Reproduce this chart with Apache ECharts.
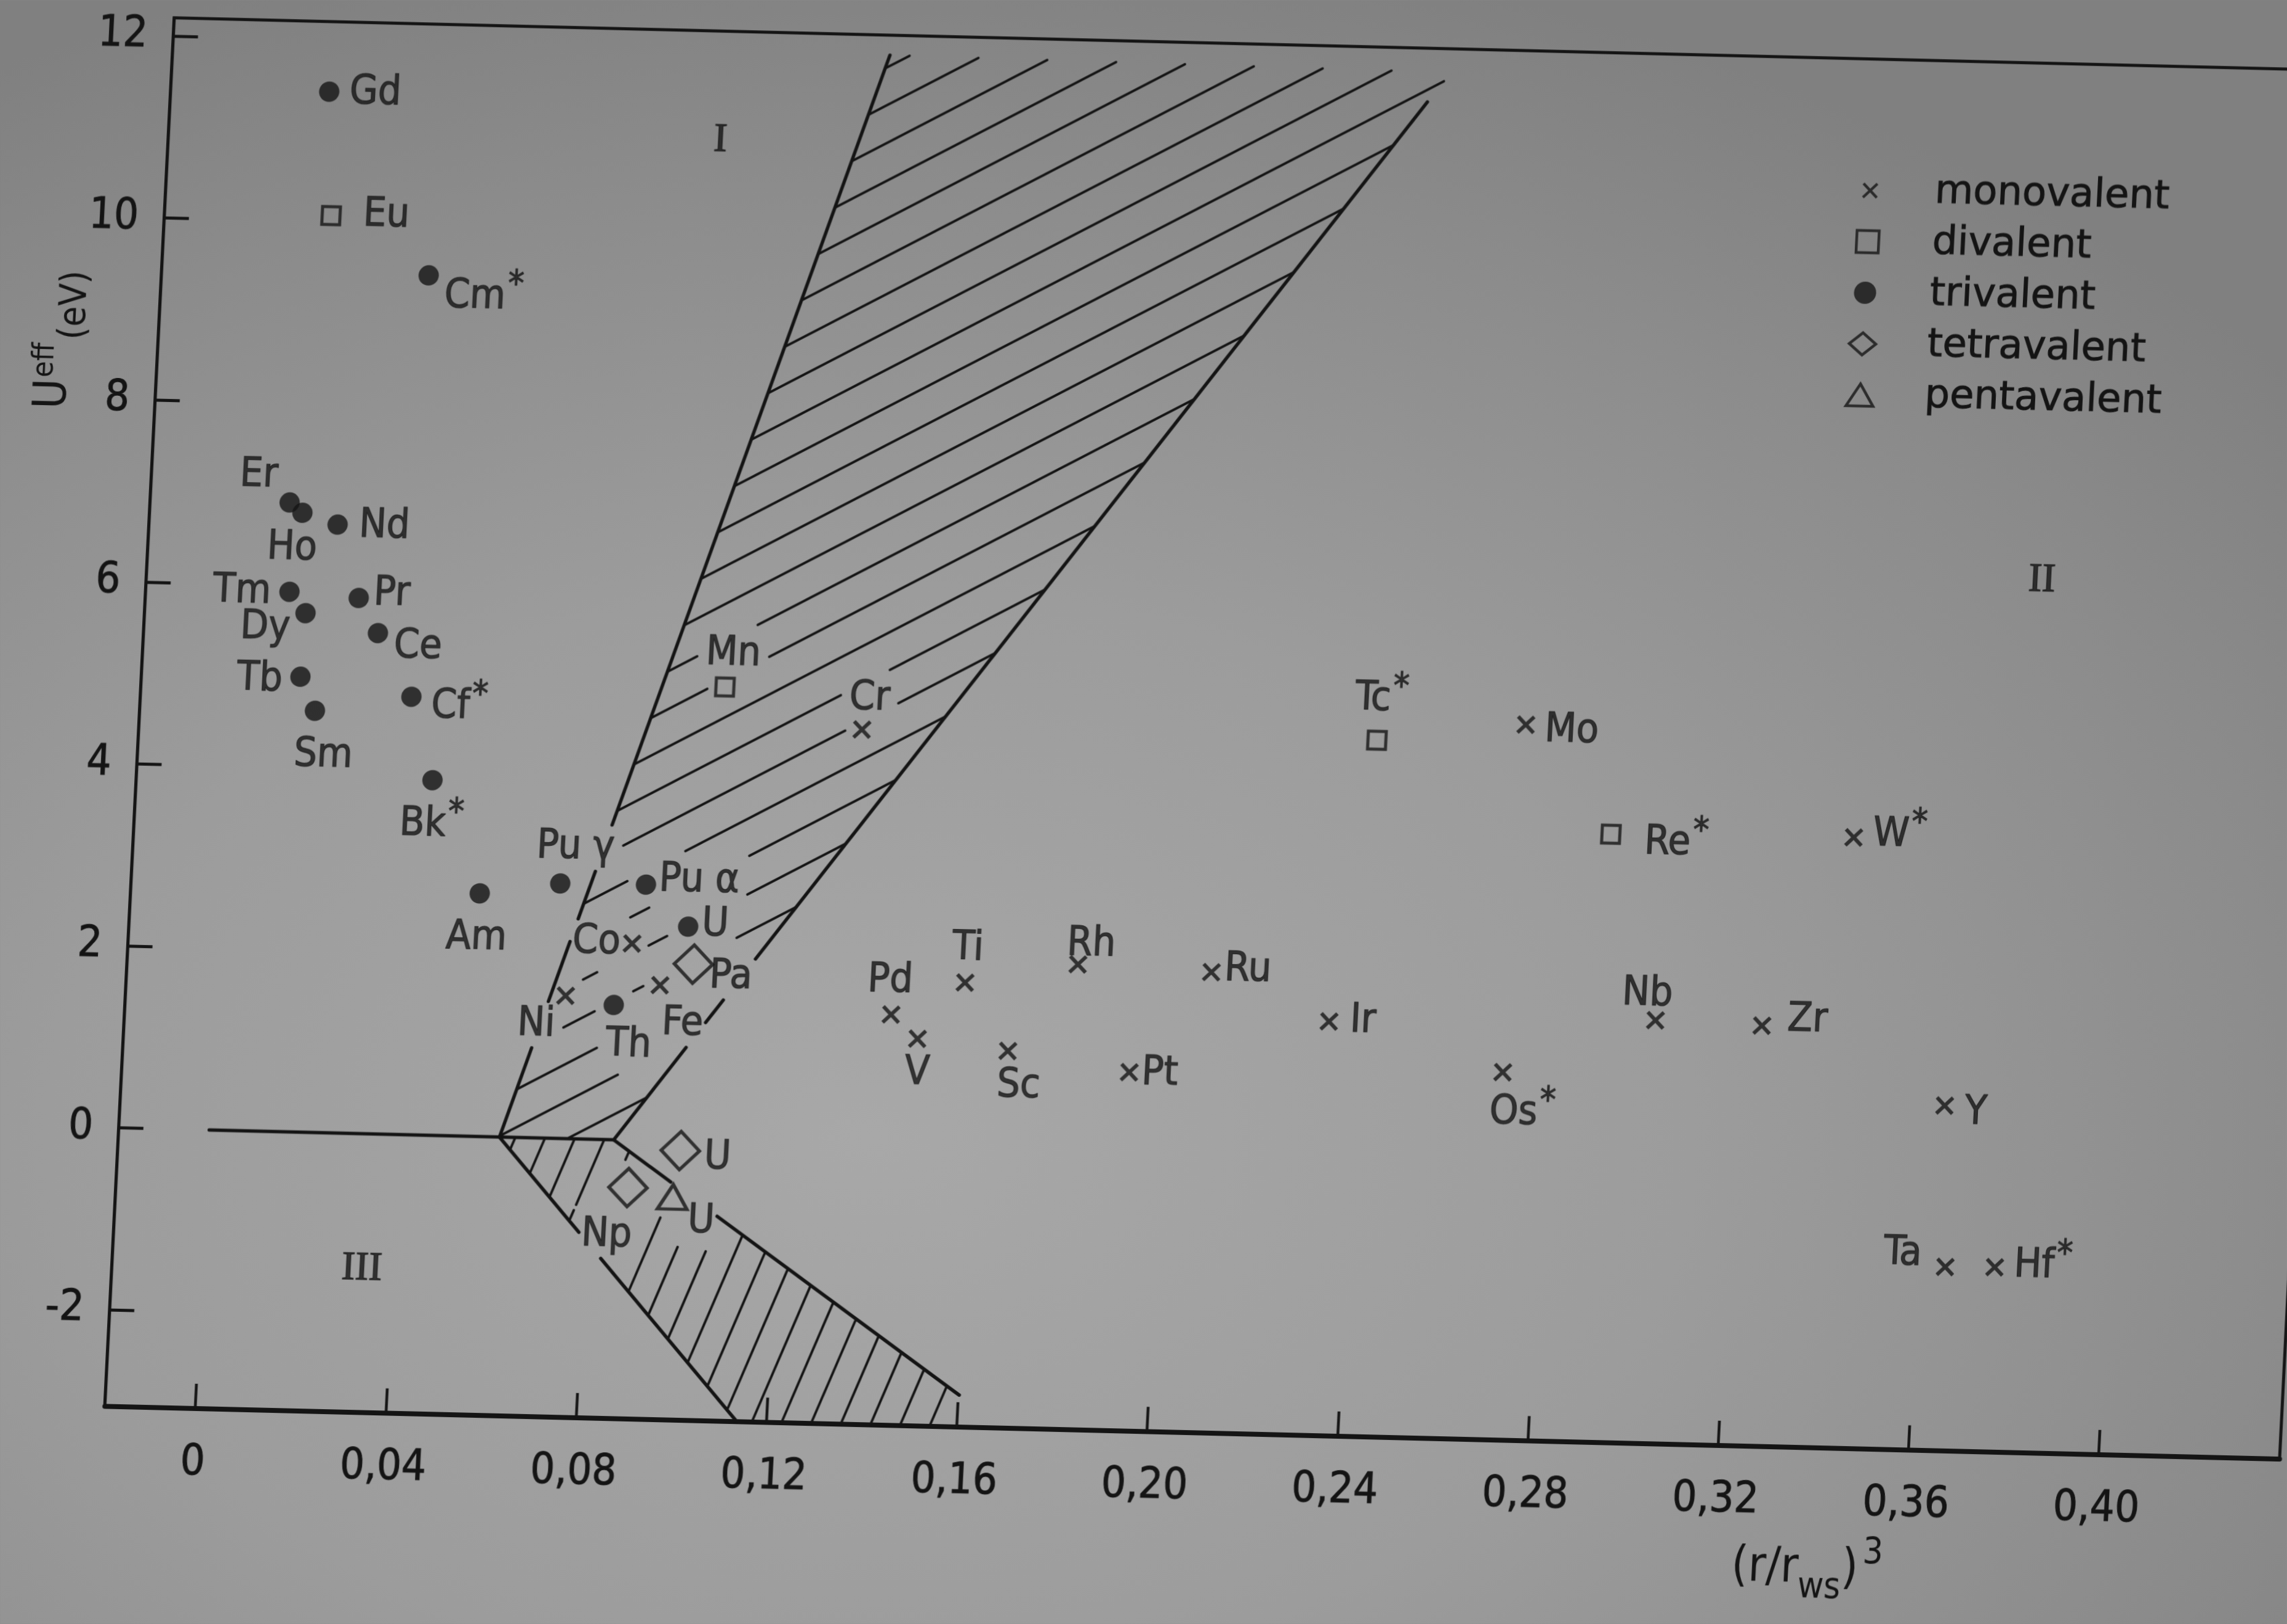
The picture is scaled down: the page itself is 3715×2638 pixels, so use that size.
<!DOCTYPE html>
<html>
<head>
<meta charset="utf-8">
<title>U_eff versus (r/r_ws)^3</title>
<script src="https://cdn.jsdelivr.net/npm/echarts@6/dist/echarts.min.js"></script>
<style>
  html, body { margin: 0; padding: 0; width: 3715px; height: 2638px; overflow: hidden; }
  body {
    background: radial-gradient(ellipse 80% 75% at 38% 70%, #a8a8a8 0%, #9c9c9c 45%, #8b8b8b 80%, #808080 100%);
  }
  #chart { position: absolute; }
</style>
</head>
<body>
<div id="chart"></div>
<script>
// ---------------- data ----------------
const xTickValues = [0, 0.04, 0.08, 0.12, 0.16, 0.20, 0.24, 0.28, 0.32, 0.36, 0.40];
const xTickLabels = ['0', '0,04', '0,08', '0,12', '0,16', '0,20', '0,24', '0,28', '0,32', '0,36', '0,40'];
const yTickValues = [-2, 0, 2, 4, 6, 8, 10, 12];
const yTickLabels = ['-2', '0', '2', '4', '6', '8', '10', '12'];

// monovalent (x)
const monoNames = ['Cr', 'Co', 'Ni', 'Fe', 'Pd', 'Ti', 'V', 'Sc', 'Rh', 'Ru', 'Pt', 'Ir', 'Os*', 'Mo', 'Nb', 'Zr', 'W*', 'Y', 'Ta', 'Hf*'];
const monoX = [0.1328, 0.0868, 0.0734, 0.0931, 0.1419, 0.1571, 0.1477, 0.1668, 0.1806, 0.2087, 0.1925, 0.2339, 0.2709, 0.2721, 0.3024, 0.3248, 0.3421, 0.3640, 0.3658, 0.3762];
const monoY = [4.57, 2.16, 1.57, 1.71, 1.45, 1.82, 1.19, 1.08, 2.05, 2.00, 0.88, 1.49, 0.98, 4.80, 1.59, 1.56, 3.65, 0.73, -1.04, -1.03];

// divalent (open square)
const diNames = ['Eu', 'Mn', 'Tc*', 'Re*'];
const diX = [0.0160, 0.1036, 0.2410, 0.2911];
const diY = [10.07, 5.00, 4.59, 3.62];

// trivalent (filled circle)
const triNames = ['Gd', 'Cm*', 'Er', 'Ho', 'Nd', 'Tm', 'Pr', 'Dy', 'Ce', 'Tb', 'Cf*', 'Sm', 'Bk*', 'Am', 'Pu γ', 'Pu α', 'U', 'Th'];
const triX = [0.0143, 0.0371, 0.0103, 0.0131, 0.0206, 0.0112, 0.0258, 0.0148, 0.0302, 0.0144, 0.0379, 0.0178, 0.0432, 0.0543, 0.0711, 0.0891, 0.0984, 0.0836];
const triY = [11.43, 9.44, 6.91, 6.80, 6.68, 5.93, 5.88, 5.70, 5.50, 5.00, 4.81, 4.63, 3.90, 2.67, 2.80, 2.81, 2.36, 1.48];

// tetravalent (open diamond)
const tetraNames = ['Pa', 'U', 'Np'];
const tetraX = [0.0999, 0.0991, 0.0885];
const tetraY = [1.95, -0.10, -0.52];

// pentavalent (open triangle)
const pentaNames = ['U'];
const pentaX = [0.0980];
const pentaY = [-0.61];

// region numerals
const regionNames = ['I', 'II', 'III'];
const regionX = [0.0969, 0.3789, 0.0335];
const regionY = [11.0, 6.52, -1.48];

// hatched transition bands and boundary lines, in data units
const upperBand = [[0.1316, 11.98], [0.2495, 11.94], [0.085, 0], [0.061, 0]];
const lowerBand = [[0.061, 0], [0.085, 0], [0.1602, -2.71], [0.1575, -3.06], [0.1138, -3.06]];
const boundaryLines = [
  [[0, 0], [0.085, 0]],
  [[0.1316, 11.98], [0.061, 0]],
  [[0.2449, 11.61], [0.085, 0]],
  [[0.061, 0], [0.1138, -3.06]],
  [[0.085, 0], [0.1602, -2.71]]
];

const xMin = -0.019, xMax = 0.438, yMin = -3.06, yMax = 12.2;

// ---------------- label placement (px from the mark centre) ----------------
const monoLabelAt = [[10, -50, 'center'], [-19, 0, 'right'], [-15, 48, 'right'], [6, 62, 'left'], [-4, -54, 'center'],
  [2, -55, 'center'], [2, 56, 'center'], [20, 57, 'center'], [20, -33, 'center'], [21, -5, 'left'], [20, 1, 'left'],
  [34, -2, 'left'], [35, 66, 'center'], [31, 9, 'left'], [-15, -42, 'center'], [41, -10, 'left'], [31, -5, 'left'],
  [33, 11, 'left'], [-39, -19, 'right'], [31, -3, 'left']];
const diLabelAt = [[52, -2, 'left'], [11, -54, 'center'], [5, -66, 'center'], [55, 12, 'left']];
const triLabelAt = [[33, 1, 'left'], [27, 33, 'left'], [-21, -42, 'right'], [-14, 58, 'center'], [35, 2, 'left'],
  [-30, 2, 'right'], [24, -8, 'left'], [-24, 26, 'right'], [27, 21, 'left'], [-29, 6, 'right'], [33, 15, 'left'],
  [17, 73, 'center'], [2, 73, 'center'], [-2, 73, 'center'], [22, -59, 'center'], [21, -8, 'left'], [22, -4, 'left'],
  [27, 65, 'center']];
const tetraLabelAt = [[27, 19, 'left'], [39, 10, 'left'], [-31, 78, 'center']];
const pentaLabelAt = [[26, 39, 'left']];

// ---------------- styling & layout ----------------
const INK = '#141414';
const FONT = "'DejaVu Sans Condensed', 'Liberation Sans Narrow', 'DejaVu Sans', sans-serif";
const WIDE_FONT = "'DejaVu Sans', sans-serif";
const SERIF = "'Liberation Serif', 'DejaVu Serif', serif";
const LABEL_SIZE = 66, STAR_SIZE = 58;
const SIZE_MONO = [26, 26], SIZE_DI = [29, 29], SIZE_TRI = [33, 33], SIZE_TETRA = [62, 62], SIZE_PENTA = [48, 40];

// page layout: the printed figure is slightly sheared on the page
const PAD = 150;
const ORIGIN = [317.6, 2279];        // page position of (0, -3)
const PX_X = 7730, PX_Y = 147.8;     // px per data unit
const SHEAR = [1, 0.02426, -0.05, 1];

const chartEl = document.getElementById('chart');
chartEl.style.left = -PAD + 'px';
chartEl.style.top = -PAD + 'px';
chartEl.style.width = (3715 + 2 * PAD) + 'px';
chartEl.style.height = (2638 + 2 * PAD) + 'px';
chartEl.style.transformOrigin = (PAD + ORIGIN[0]) + 'px ' + (PAD + ORIGIN[1]) + 'px';
chartEl.style.transform = 'matrix(' + SHEAR.join(',') + ',0,0)';

const gridLeft = PAD + ORIGIN[0] + xMin * PX_X;
const gridTop = PAD + ORIGIN[1] - (yMax + 3) * PX_Y;
const gridWidth = (xMax - xMin) * PX_X;
const gridHeight = (yMax - yMin) * PX_Y;

const ICON_CROSS = 'path://M0,0L0.01,0M3,3L13,13M13,3L3,13M16,16L16.01,16';
const ICON_SQUARE = 'path://M0,0L10,0L10,10L0,10Z';
const ICON_DIAMOND = 'path://M12,0L24,10L12,20L0,10Z';
const ICON_TRIANGLE = 'path://M11,0L22,18L0,18Z';
const SYMBOL_CROSS = 'path://M0,0L10,10M10,0L0,10';

// ---------------- helpers ----------------
const measureCtx = document.createElement('canvas').getContext('2d');
function textWidth(text, size) {
  measureCtx.font = size + 'px ' + FONT;
  return measureCtx.measureText(text).width;
}

function labelFormatter(p) {
  const n = p.name;
  return n.endsWith('*') ? n.slice(0, -1) + '{s|*}' : n;
}

function buildData(names, xs, ys, at) {
  return names.map((n, i) => ({
    name: n,
    value: [xs[i], ys[i]],
    label: { offset: [at[i][0], at[i][1]], align: at[i][2] }
  }));
}

const pointGroups = [
  { names: monoNames, xs: monoX, ys: monoY, at: monoLabelAt, size: SIZE_MONO },
  { names: diNames, xs: diX, ys: diY, at: diLabelAt, size: SIZE_DI },
  { names: triNames, xs: triX, ys: triY, at: triLabelAt, size: SIZE_TRI },
  { names: tetraNames, xs: tetraX, ys: tetraY, at: tetraLabelAt, size: SIZE_TETRA },
  { names: pentaNames, xs: pentaX, ys: pentaY, at: pentaLabelAt, size: SIZE_PENTA }
];

// boxes around marks and their labels, kept clear of hatching
function clearBoxes(api) {
  const boxes = [];
  pointGroups.forEach(g => g.names.forEach((name, i) => {
    const c = api.coord([g.xs[i], g.ys[i]]);
    boxes.push([c[0] - g.size[0] / 2, c[1] - g.size[1] / 2, c[0] + g.size[0] / 2, c[1] + g.size[1] / 2]);
    const star = name.endsWith('*');
    const base = star ? name.slice(0, -1) : name;
    const w = textWidth(base, LABEL_SIZE) + (star ? textWidth('*', STAR_SIZE) + 3 : 0);
    const ax = c[0] + g.at[i][0], ay = c[1] + g.at[i][1], align = g.at[i][2];
    const x0 = align === 'left' ? ax : (align === 'right' ? ax - w : ax - w / 2);
    boxes.push([x0, ay - 34 - (star ? 18 : 0), x0 + w, ay + 34]);
  }));
  return boxes;
}

function clipToPolygon(p0, p1, poly) {
  let area = 0;
  for (let i = 0; i < poly.length; i++) {
    const a = poly[i], b = poly[(i + 1) % poly.length];
    area += a[0] * b[1] - b[0] * a[1];
  }
  const s = area > 0 ? 1 : -1;
  const D = [p1[0] - p0[0], p1[1] - p0[1]];
  let t0 = 0, t1 = 1;
  for (let i = 0; i < poly.length; i++) {
    const a = poly[i], b = poly[(i + 1) % poly.length];
    const e = [b[0] - a[0], b[1] - a[1]];
    const f0 = s * (e[0] * (p0[1] - a[1]) - e[1] * (p0[0] - a[0]));
    const fd = s * (e[0] * D[1] - e[1] * D[0]);
    if (Math.abs(fd) < 1e-12) { if (f0 < 0) return null; continue; }
    const t = -f0 / fd;
    if (fd > 0) t0 = Math.max(t0, t); else t1 = Math.min(t1, t);
    if (t0 >= t1) return null;
  }
  return [t0, t1];
}

function rectInterval(p0, D, r, gap) {
  let tmin = -Infinity, tmax = Infinity;
  const axes = [[p0[0], D[0], r[0] - gap, r[2] + gap], [p0[1], D[1], r[1] - gap, r[3] + gap]];
  for (const [p, d, lo, hi] of axes) {
    if (Math.abs(d) < 1e-12) { if (p < lo || p > hi) return null; }
    else {
      let ta = (lo - p) / d, tb = (hi - p) / d;
      if (ta > tb) { const tmp = ta; ta = tb; tb = tmp; }
      tmin = Math.max(tmin, ta); tmax = Math.min(tmax, tb);
    }
  }
  return tmin < tmax ? [tmin, tmax] : null;
}

function subtract(pieces, cut) {
  const out = [];
  pieces.forEach(([a, b]) => {
    if (cut[1] <= a || cut[0] >= b) { out.push([a, b]); return; }
    if (cut[0] > a) out.push([a, cut[0]]);
    if (cut[1] < b) out.push([cut[1], b]);
  });
  return out;
}

function addPieces(out, p0, p1, t, width, boxes, gap) {
  const D = [p1[0] - p0[0], p1[1] - p0[1]];
  let pieces = [t];
  boxes.forEach(b => { const c = rectInterval(p0, D, b, gap); if (c) pieces = subtract(pieces, c); });
  const len = Math.hypot(D[0], D[1]);
  pieces.forEach(([a, b]) => {
    if ((b - a) * len < 10) return;
    out.push({
      type: 'line',
      shape: { x1: p0[0] + D[0] * a, y1: p0[1] + D[1] * a, x2: p0[0] + D[0] * b, y2: p0[1] + D[1] * b },
      style: { stroke: INK, lineWidth: width, lineCap: 'round' }
    });
  });
}

function hatch(out, poly, dir, spacing, phase, width, boxes) {
  const n = [-dir[1], dir[0]];
  const cx = poly.reduce((s, p) => s + p[0], 0) / poly.length;
  const cy = poly.reduce((s, p) => s + p[1], 0) / poly.length;
  const proj = poly.map(p => (p[0] - cx) * n[0] + (p[1] - cy) * n[1]);
  const lo = Math.min.apply(null, proj), hi = Math.max.apply(null, proj);
  const L = 6000;
  for (let off = Math.ceil(lo / spacing) * spacing + phase; off <= hi; off += spacing) {
    const q = [cx + n[0] * off, cy + n[1] * off];
    const p0 = [q[0] - dir[0] * L, q[1] - dir[1] * L];
    const p1 = [q[0] + dir[0] * L, q[1] + dir[1] * L];
    const t = clipToPolygon(p0, p1, poly);
    if (t) addPieces(out, p0, p1, t, width, boxes, 14);
  }
}

function renderRegions(params, api) {
  const boxes = clearBoxes(api);
  const toPx = v => api.coord(v);
  const children = [];
  hatch(children, upperBand.map(toPx), [0.874, -0.486], 55, 10, 4, boxes);
  hatch(children, lowerBand.map(toPx), [-0.353, 0.936], 45, 12, 4, boxes);
  boundaryLines.forEach(seg => addPieces(children, toPx(seg[0]), toPx(seg[1]), [0, 1], 5.5, boxes, 4));
  return { type: 'group', children: children };
}

// ---------------- chart ----------------
const chart = echarts.init(chartEl, null, { renderer: 'canvas' });

const labelBase = {
  show: true,
  position: 'inside',
  verticalAlign: 'middle',
  color: INK,
  fontSize: LABEL_SIZE,
  fontFamily: FONT,
  textBorderColor: INK,
  textBorderWidth: 1.2,
  formatter: labelFormatter,
  rich: { s: { fontSize: STAR_SIZE, fontFamily: FONT, color: INK, textBorderColor: INK, textBorderWidth: 1.2, padding: [0, 0, 36, 3] } }
};

function tickLabel(values, labels) {
  return v => {
    const i = values.findIndex(t => Math.abs(t - v) < 1e-6);
    return i >= 0 ? labels[i] : '';
  };
}

const option = {
  backgroundColor: 'transparent',
  animation: false,
  grid: {
    left: gridLeft, top: gridTop, width: gridWidth, height: gridHeight,
    show: true, borderColor: INK, borderWidth: 5, backgroundColor: 'transparent'
  },
  xAxis: {
    type: 'value', min: xMin, max: xMax,
    splitLine: { show: false },
    axisLine: { show: true, onZero: false, lineStyle: { color: INK, width: 8 } },
    axisTick: { show: true, inside: true, length: 40, lineStyle: { color: INK, width: 4.5 }, customValues: xTickValues },
    axisLabel: {
      customValues: xTickValues, formatter: tickLabel(xTickValues, xTickLabels),
      margin: 54, fontSize: 70, fontFamily: FONT, color: INK, textBorderColor: INK, textBorderWidth: 1
    }
  },
  yAxis: {
    type: 'value', min: yMin, max: yMax,
    splitLine: { show: false },
    axisLine: { show: true, onZero: false, lineStyle: { color: INK, width: 5 } },
    axisTick: { show: true, inside: true, length: 40, lineStyle: { color: INK, width: 5 }, customValues: yTickValues },
    axisLabel: {
      customValues: yTickValues, formatter: tickLabel(yTickValues, yTickLabels),
      margin: 42, fontSize: 70, fontFamily: FONT, color: INK, textBorderColor: INK, textBorderWidth: 1
    }
  },
  legend: {
    orient: 'vertical',
    left: PAD + 2907, top: PAD + 199.5,
    itemWidth: 200, itemHeight: 36, itemGap: 0,
    selectedMode: false,
    textStyle: { fontSize: 64, fontFamily: WIDE_FONT, color: INK, lineHeight: 83, textBorderColor: INK, textBorderWidth: 1 },
    itemStyle: { borderWidth: 4.5 },
    data: [
      { name: 'monovalent', icon: ICON_CROSS },
      { name: 'divalent', icon: ICON_SQUARE },
      { name: 'trivalent', icon: 'circle', itemStyle: { borderWidth: 0 } },
      { name: 'tetravalent', icon: ICON_DIAMOND },
      { name: 'pentavalent', icon: ICON_TRIANGLE }
    ]
  },
  graphic: [
    {
      type: 'text', x: PAD + 6, y: PAD + 559, rotation: Math.PI / 2,
      style: {
        text: '{u|U}{e|eff}{v|(eV)}', align: 'center', verticalAlign: 'middle', fill: INK,
        rich: {
          u: { fontSize: 74, lineHeight: 124, fontFamily: FONT, fill: INK },
          e: { fontSize: 48, verticalAlign: 'top', padding: [22, 0, 0, 2], fontFamily: FONT, fill: INK },
          v: { fontSize: 60, verticalAlign: 'bottom', padding: [0, 0, 4, 6], fontFamily: FONT, fill: INK }
        }
      }
    },
    {
      type: 'text', x: PAD + 2945, y: PAD + 2486,
      style: {
        text: '{m|(r/r}{b|ws}{m|)}{t|3}', align: 'center', verticalAlign: 'middle', fill: INK,
        rich: {
          m: { fontSize: 78, lineHeight: 130, fontFamily: FONT, fill: INK },
          b: { fontSize: 58, verticalAlign: 'bottom', padding: [0, 0, 6, 0], fontFamily: FONT, fill: INK },
          t: { fontSize: 58, verticalAlign: 'top', padding: [8, 0, 0, 6], fontFamily: FONT, fill: INK }
        }
      }
    }
  ],
  series: [
    {
      type: 'custom', name: 'regions', coordinateSystem: 'cartesian2d',
      data: [[0, 0]], renderItem: renderRegions, silent: true, z: 1, clip: false
    },
    {
      type: 'scatter', name: 'monovalent', z: 3, clip: false, silent: true,
      symbol: SYMBOL_CROSS, symbolSize: SIZE_MONO,
      itemStyle: { color: 'rgba(0,0,0,0)', borderColor: INK, borderWidth: 6 },
      label: labelBase,
      data: buildData(monoNames, monoX, monoY, monoLabelAt)
    },
    {
      type: 'scatter', name: 'divalent', z: 3, clip: false, silent: true,
      symbol: 'rect', symbolSize: SIZE_DI,
      itemStyle: { color: 'rgba(0,0,0,0)', borderColor: INK, borderWidth: 5 },
      label: labelBase,
      data: buildData(diNames, diX, diY, diLabelAt)
    },
    {
      type: 'scatter', name: 'trivalent', z: 3, clip: false, silent: true,
      symbol: 'circle', symbolSize: SIZE_TRI,
      itemStyle: { color: INK, borderColor: INK, borderWidth: 0 },
      label: labelBase,
      data: buildData(triNames, triX, triY, triLabelAt)
    },
    {
      type: 'scatter', name: 'tetravalent', z: 3, clip: false, silent: true,
      symbol: 'diamond', symbolSize: SIZE_TETRA,
      itemStyle: { color: 'rgba(0,0,0,0)', borderColor: INK, borderWidth: 5.5 },
      label: labelBase,
      data: buildData(tetraNames, tetraX, tetraY, tetraLabelAt)
    },
    {
      type: 'scatter', name: 'pentavalent', z: 3, clip: false, silent: true,
      symbol: 'triangle', symbolSize: SIZE_PENTA,
      itemStyle: { color: 'rgba(0,0,0,0)', borderColor: INK, borderWidth: 5.5 },
      label: labelBase,
      data: buildData(pentaNames, pentaX, pentaY, pentaLabelAt)
    },
    {
      type: 'scatter', name: 'regions-numerals', z: 3, clip: false, silent: true,
      symbol: 'circle', symbolSize: 1,
      itemStyle: { color: 'rgba(0,0,0,0)' },
      label: {
        show: true, position: 'inside', formatter: '{b}', color: INK,
        textBorderColor: INK, textBorderWidth: 1.5,
        fontSize: 66, fontFamily: SERIF
      },
      data: regionNames.map((n, i) => ({ name: n, value: [regionX[i], regionY[i]] }))
    }
  ]
};

chart.setOption(option);
</script>
</body>
</html>
